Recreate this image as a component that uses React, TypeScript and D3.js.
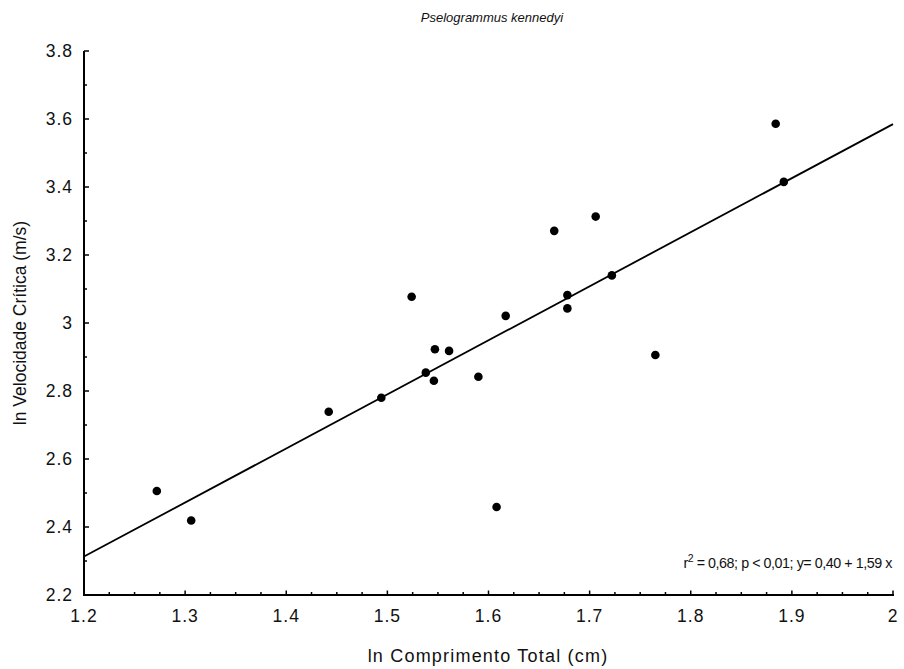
import React from "react";
import * as d3 from "d3";

const title = "Pselogrammus kennedyi";
const xLabel = "ln Comprimento Total (cm)";
const yLabel = "ln Velocidade Crítica (m/s)";

const lnLength = [1.272, 1.306, 1.442, 1.494, 1.524, 1.538, 1.546, 1.547, 1.561, 1.590, 1.608, 1.617, 1.665, 1.678, 1.678, 1.706, 1.722, 1.765, 1.884, 1.892];
const lnVelocity = [2.506, 2.419, 2.739, 2.780, 3.077, 2.854, 2.830, 2.923, 2.918, 2.842, 2.459, 3.021, 3.271, 3.082, 3.043, 3.313, 3.140, 2.906, 3.586, 3.415];

const fitX = [1.2, 2.0];
const fitY = [2.313, 3.585];

const xTicks = [1.2, 1.3, 1.4, 1.5, 1.6, 1.7, 1.8, 1.9, 2];
const xTickLabels = ["1.2", "1.3", "1.4", "1.5", "1.6", "1.7", "1.8", "1.9", "2"];
const yTicks = [2.2, 2.4, 2.6, 2.8, 3, 3.2, 3.4, 3.6, 3.8];
const yTickLabels = ["2.2", "2.4", "2.6", "2.8", "3", "3.2", "3.4", "3.6", "3.8"];

const W = 904, H = 669;
const left = 84, right = 893, top = 51, bottom = 595;
const font = "'Liberation Sans', Arial, sans-serif";

export default function App() {
  const x = d3.scaleLinear().domain([1.2, 2]).range([left, right]);
  const y = d3.scaleLinear().domain([2.2, 3.8]).range([bottom, top]);
  const xMinor = d3.range(0, 33).map((i) => 1.2 + i * 0.025);
  const yMinor = d3.range(0, 17).map((i) => 2.2 + i * 0.1);
  const line = d3.line<number>().x((d, i) => x(fitX[i])).y((d, i) => y(fitY[i]));

  return (
    <svg width={W} height={H} style={{ position: "absolute", left: 0, top: 0, background: "#fff" }} fontFamily={font}>
      <rect width={W} height={H} fill="#fff" />
      <text x={492} y={22} textAnchor="middle" fontSize={13} fontStyle="italic" fill="#111">{title}</text>

      {/* axes */}
      <line x1={left} x2={left} y1={top} y2={bottom + 1} stroke="#000" strokeWidth={2} />
      <line x1={left - 1} x2={right + 1} y1={bottom} y2={bottom} stroke="#000" strokeWidth={2} />
      {yMinor.map((v, i) => (
        <line key={"ym" + i} x1={left} x2={left + (i % 2 === 0 ? 5 : 3)} y1={y(v)} y2={y(v)} stroke="#000" strokeWidth={1.5} />
      ))}
      {xMinor.map((v, i) => (
        <line key={"xm" + i} x1={x(v)} x2={x(v)} y1={bottom} y2={bottom - (i % 4 === 0 ? 4.5 : 3)} stroke="#000" strokeWidth={1.5} />
      ))}
      {yTicks.map((v, i) => (
        <text key={"yt" + i} x={73} y={y(v)} dy="0.35em" textAnchor="end" fontSize={17.5} letterSpacing={1} fill="#111">{yTickLabels[i]}</text>
      ))}
      {xTicks.map((v, i) => (
        <text key={"xt" + i} x={x(v)} y={622} textAnchor="middle" fontSize={17.5} letterSpacing={1} fill="#111">{xTickLabels[i]}</text>
      ))}

      <text x={488} y={662} textAnchor="middle" fontSize={18} letterSpacing={1.2} fill="#111">{xLabel}</text>
      <text transform="translate(26,323) rotate(-90)" textAnchor="middle" fontSize={17.5} fill="#111">{yLabel}</text>

      {/* fit line */}
      <path d={line(fitX) || ""} fill="none" stroke="#000" strokeWidth={1.8} />

      {lnLength.map((v, i) => (
        <circle key={"p" + i} cx={x(v)} cy={y(lnVelocity[i])} r={4.3} fill="#000" />
      ))}

      <text x={892} y={568} textAnchor="end" fontSize={14.3} letterSpacing={-0.45} fill="#111">
        r<tspan fontSize={10.5} dy={-6}>2</tspan><tspan dy={6}> = 0,68; p &lt; 0,01; y= 0,40 + 1,59 x</tspan>
      </text>
    </svg>
  );
}
